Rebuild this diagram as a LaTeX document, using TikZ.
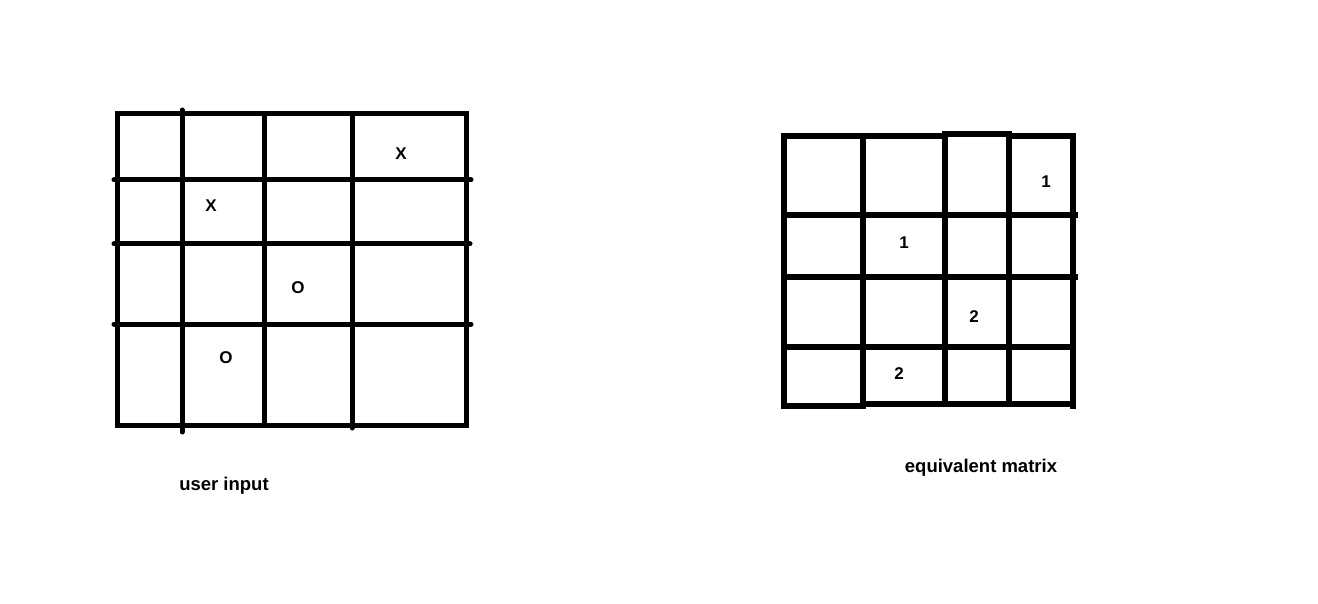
\documentclass[tikz,border=0pt]{standalone}
\usepackage{fontspec}
\setmainfont{Liberation Sans}
\begin{document}
\begin{tikzpicture}[x=1pt,y=-1pt,
  gridA/.style={line width=5pt,line cap=rect},
  gridB/.style={line width=6.5pt,line cap=rect},
  cellsym/.style={font=\bfseries\fontsize{17}{20}\selectfont,inner sep=0pt},
  captext/.style={font=\bfseries\fontsize{18.5}{22}\selectfont,inner sep=0pt}]
\useasboundingbox (0,0) rectangle (1318,604);
% left grid
\draw[gridA] (117,114) rectangle (466,425);
\draw[gridA,line cap=round] (182,110) -- (182,432);
\draw[gridA] (264,114) -- (264,425);
\draw[gridA,line cap=round] (352,114) -- (352,428);
\draw[gridA,line cap=round] (114,180) -- (471,180);
\draw[gridA,line cap=round] (114,244) -- (470,244);
\draw[gridA,line cap=round] (114,324) -- (471,324);
\node[cellsym] (x1) at (401,154) {X};
\node[cellsym] (x2) at (211,206) {X};
\node[cellsym] (o1) at (298,288) {O};
\node[cellsym] (o2) at (226,358) {O};
\node[captext] (cap1) at (224,486) {user input};
% right grid
\draw[gridB] (784,136) -- (945,136);
\draw[gridB] (945,134) -- (1009,134);
\draw[gridB] (1009,136) -- (1073,136);
\draw[gridB] (784,136) -- (784,406);
\draw[gridB] (1073,136) -- (1073,406);
\draw[gridB] (784,406) -- (863,406);
\draw[gridB] (863,404) -- (1073,404);
\draw[gridB] (863,136) -- (863,406);
\draw[gridB] (945,134) -- (945,404);
\draw[gridB] (1009,134) -- (1009,404);
\draw[gridB] (784,215) -- (1075,215);
\draw[gridB] (784,277) -- (1075,277);
\draw[gridB] (784,347) -- (1073,347);
\node[cellsym] (n1) at (1046,182) {1};
\node[cellsym] (n2) at (904,243) {1};
\node[cellsym] (n3) at (974,317) {2};
\node[cellsym] (n4) at (899,374) {2};
\node[captext] (cap2) at (981,468) {equivalent matrix};
\end{tikzpicture}
\end{document}
